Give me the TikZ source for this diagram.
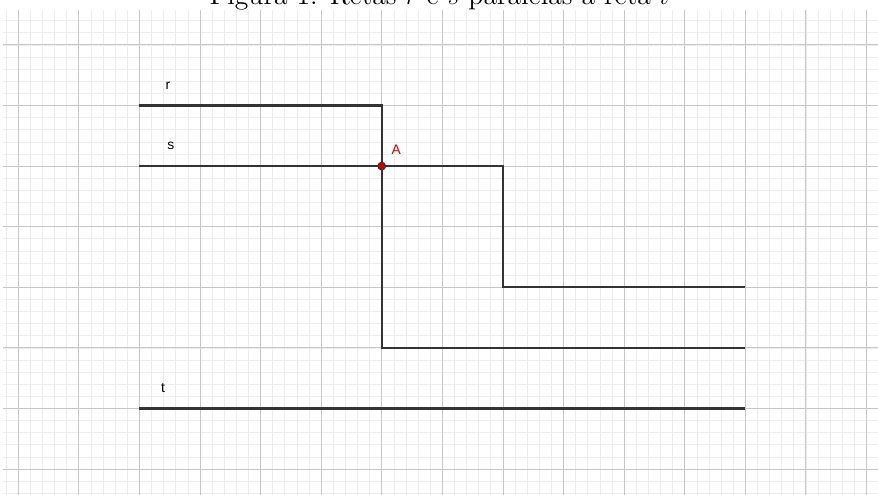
\documentclass[tikz,border=0pt]{standalone}
\usepackage{fontspec}
\newfontfamily\rotulofont{Liberation Sans}
\definecolor{linhaescura}{HTML}{333333}
\definecolor{pontovermelho}{HTML}{CC0000}
\tikzset{
  reta/.style={draw=linhaescura,line width=1pt},
  rotulo/.style={font=\rotulofont\fontsize{6.5}{8}\selectfont,inner sep=0pt},
  ponto/.style={shape=circle,draw=black!80,fill=pontovermelho,line width=0.4pt,inner sep=0pt,minimum size=1.3mm}
}
\begin{document}
\begin{tikzpicture}
            \useasboundingbox (-2.30,-1.427) rectangle (12.19,6.741);
            \draw[step=0.2,black!7,line width=0.3pt] (-2.25,-1.427) grid (12.19,6.576);
            \draw[step=1,black!22,line width=0.4pt] (-2.25,-1.427) grid (12.19,6.576);
            \node[anchor=base,font=\fontsize{13}{15}\selectfont] (titulo) at (4.95,6.66) {Figura 1: Retas $r$ e $s$ paralelas à reta $t$};
            \coordinate (r1) at (0,5);
            \coordinate (r2) at (4,5);
            \coordinate (r3) at (4,1);
            \coordinate (r4) at (10,1);
            \coordinate (s1) at (0,4);
            \coordinate (s2) at (6,4);
            \coordinate (s3) at (6,2);
            \coordinate (s4) at (10,2);
            \coordinate (t1) at (0,0);
            \coordinate (t2) at (10,0);
            \draw[reta] (r1) -- (r2) -- (r3) -- (r4);
            \draw[reta] (s1) -- (s2) -- (s3) -- (s4);
            \draw[reta] (t1) -- (t2);
            \node[ponto] (A) at (4,4) {};
            \node[rotulo] (rr) at (0.47,5.32) {r};
            \node[rotulo] (rs) at (0.52,4.33) {s};
            \node[rotulo] (rt) at (0.39,0.34) {t};
            \node[rotulo,text=pontovermelho] (rA) at (4.24,4.27) {A};
        \end{tikzpicture}
\end{document}
